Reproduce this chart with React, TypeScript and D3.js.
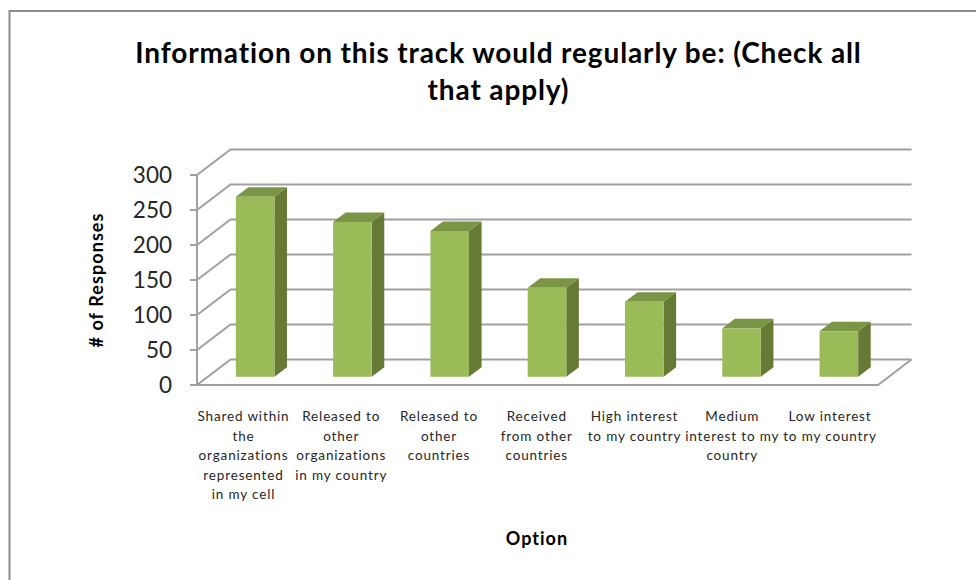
import React from "react";
import * as d3 from "d3";

const titleLines = ["Information on this track would regularly be: (Check all", "that apply)"];
const categories = ["shared", "releasedOrgs", "releasedCountries", "received", "high", "medium", "low"];
const categoryLabels = [
  ["Shared within", "the", "organizations", "represented", "in my cell"],
  ["Released to", "other", "organizations", "in my country"],
  ["Released to", "other", "countries"],
  ["Received", "from other", "countries"],
  ["High interest", "to my country"],
  ["Medium", "interest to my", "country"],
  ["Low interest", "to my country"],
];
const responses = [257, 221, 208, 127, 107, 69, 65];
const yTicks = [0, 50, 100, 150, 200, 250, 300];
const yTitle = "# of Responses";
const xTitle = "Option";

const FONT = "Lato, Carlito, Calibri, sans-serif";
const GRID = "#a0a0a0";

// Oblique projection: front plane comes from the x/y scales, depth shifts up and to the right.
const x = d3.scaleBand<string>().domain(categories).range([197, 878]);
const y = d3.scaleLinear().domain([0, 300]).range([385, 175]);
const depthX = d3.scaleLinear().domain([0, 1]).range([0, 33.5]);
const depthY = d3.scaleLinear().domain([0, 1]).range([0, -25.5]);
// Category labels sit on their own slightly wider spacing under the floor.
const labelX = d3.scalePoint<string>().domain(categories).range([243.5, 830]);
const BAR_WIDTH = 38.6;
const BAR_SHIFT = -1.4;
const BAR_DEPTH_START = 0.325;
const BAR_DEPTH_END = 0.7;

const pt = (px: number, v: number, d: number): [number, number] => [px + depthX(d), y(v) + depthY(d)];
const poly = (pts: [number, number][]) => pts.map((p) => p.join(",")).join(" ");

export default function App() {
  const right = x.range()[1];
  const left = x.range()[0];
  return (
    <svg
      width={976}
      height={580}
      style={{ position: "absolute", left: 0, top: 0, background: "#fff" }}
      fontFamily={FONT}
    >
      <path d="M976,11H9.5V580" fill="none" stroke="#8c8c8c" strokeWidth={2} />

      {titleLines.map((line, i) => (
        <text
          key={i}
          x={498.5}
          y={63 + i * 37}
          textAnchor="middle"
          fontSize={28}
          fontWeight={700}
          letterSpacing={0.87}
          fill="#000"
        >
          {line}
        </text>
      ))}

      {/* Back wall gridlines and the side wall diagonals */}
      {yTicks.map((t) => {
        const a = pt(left, t, 0);
        const b = pt(left, t, 1);
        const c = pt(right, t, 1);
        return (
          <g key={t} fill="none" stroke={GRID} strokeWidth={2}>
            <line x1={a[0] - 7} x2={a[0]} y1={a[1]} y2={a[1]} />
            <polyline points={poly([a, b, c])} />
          </g>
        );
      })}
      {/* Floor front edge, right edge and the vertical axis */}
      <polyline
        points={poly([pt(left, 0, 0), pt(right, 0, 0), pt(right, 0, 1)])}
        fill="none"
        stroke={GRID}
        strokeWidth={2}
      />
      <line x1={left} x2={left} y1={y(0)} y2={y(300)} stroke={GRID} strokeWidth={2} />

      {yTicks.map((t) => (
        <text key={t} x={172} y={y(t) + 7.5} textAnchor="end" fontSize={22.5} fill="#262626">
          {t}
        </text>
      ))}

      {/* Bars: front face, top face and side face */}
      {categories.map((c, i) => {
        const cx = (x(c) as number) + x.bandwidth() / 2 + BAR_SHIFT;
        const l = cx - BAR_WIDTH / 2;
        const r = cx + BAR_WIDTH / 2;
        const v = responses[i];
        const d0 = BAR_DEPTH_START;
        const d1 = BAR_DEPTH_END;
        return (
          <g key={c}>
            <polygon points={poly([pt(r, 0, d0), pt(r, v, d0), pt(r, v, d1), pt(r, 0, d1)])} fill="#667a36" />
            <polygon points={poly([pt(l, v, d0), pt(l, v, d1), pt(r, v, d1), pt(r, v, d0)])} fill="#7c9445" />
            <polygon points={poly([pt(l, 0, d0), pt(l, v, d0), pt(r, v, d0), pt(r, 0, d0)])} fill="#9bbb59" />
          </g>
        );
      })}

      {categoryLabels.map((lines, i) => (
        <text key={i} textAnchor="middle" fontSize={13.5} fill="#262626" letterSpacing={0.85}>
          {lines.map((line, j) => (
            <tspan key={j} x={labelX(categories[i])} y={421 + j * 19.6}>
              {line}
            </tspan>
          ))}
        </text>
      ))}

      <text x={537} y={545} textAnchor="middle" fontSize={18} fontWeight={700} letterSpacing={1} fill="#000">
        {xTitle}
      </text>
      <text
        transform="translate(103,280) rotate(-90)"
        textAnchor="middle"
        fontSize={18}
        fontWeight={700}
        letterSpacing={1.07}
        fill="#000"
      >
        {yTitle}
      </text>
    </svg>
  );
}
